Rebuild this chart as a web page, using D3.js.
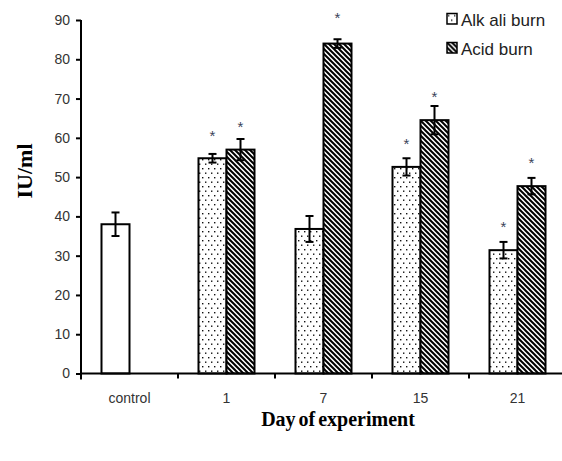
<!DOCTYPE html>
<html><head><meta charset="utf-8">
<script src="https://cdn.jsdelivr.net/npm/d3@7"></script>
<style>
html,body{margin:0;padding:0;background:#fff;}
svg{display:block;}
</style>
</head><body>
<svg id="chart" width="562" height="461"></svg>
<script>
// ---- data ----
const categories = ["control", "1", "7", "15", "21"];
const controlValues = [38, null, null, null, null];
const controlErr    = [3, null, null, null, null];
const alkaliValues  = [null, 54.8, 36.8, 52.6, 31.4];
const alkaliErr     = [null, 1.1, 3.3, 2.2, 2.1];
const acidValues    = [null, 57.0, 84.0, 64.5, 47.7];
const acidErr       = [null, 2.7, 1.1, 3.6, 2.1];
const alkaliStars   = [null, 61.3, null, 59.2, 38.0];
const acidStars     = [null, 63.5, 91.2, 71.1, 54.3];
const yTicks = [0, 10, 20, 30, 40, 50, 60, 70, 80, 90];
const seriesNames = ["Alk ali burn", "Acid burn"];

const svg = d3.select("#chart");
const defs = svg.append("defs");

// dotted pattern
const dots = defs.append("pattern").attr("id", "dots").attr("patternUnits", "userSpaceOnUse")
  .attr("width", 6).attr("height", 9);
dots.append("rect").attr("width", 6).attr("height", 9).attr("fill", "#fff");
dots.append("rect").attr("x", 1).attr("y", 1.5).attr("width", 1.4).attr("height", 1.4).attr("fill", "#111");
dots.append("rect").attr("x", 4).attr("y", 6).attr("width", 1.4).attr("height", 1.4).attr("fill", "#111");

// diagonal stripes (down-right)
const hatch = defs.append("pattern").attr("id", "hatch").attr("patternUnits", "userSpaceOnUse")
  .attr("width", 5).attr("height", 5);
hatch.append("rect").attr("width", 5).attr("height", 5).attr("fill", "#fff");
hatch.append("path").attr("d", "M-1,-1 L6,6 M-1,4 L1,6 M4,-1 L6,1")
  .attr("stroke", "#000").attr("stroke-width", 2);

// ---- scales ----
const x0 = 81, plotTop = 20, plotBottom = 373.5;
const x = d3.scaleBand().domain(categories).range([x0, x0 + 97 * categories.length]).padding(0);
const slot = d3.scaleBand().domain(["a", "b"]).range([0, x.bandwidth()]).paddingInner(0).paddingOuter(0.732);
const y = d3.scaleLinear().domain([0, 90]).range([plotBottom, plotTop]);

const bars = [];
categories.forEach((c, i) => {
  if (controlValues[i] != null) bars.push({c, s: "a", v: controlValues[i], e: controlErr[i], fill: "#fff", star: null});
  if (alkaliValues[i] != null) bars.push({c, s: "a", v: alkaliValues[i], e: alkaliErr[i], fill: "url(#dots)", star: alkaliStars[i]});
  if (acidValues[i] != null) bars.push({c, s: "b", v: acidValues[i], e: acidErr[i], fill: "url(#hatch)", star: acidStars[i]});
});

const g = svg.append("g");
g.selectAll("rect.bar").data(bars).join("rect").attr("class", "bar")
  .attr("x", d => x(d.c) + slot(d.s))
  .attr("y", d => y(d.v))
  .attr("width", slot.bandwidth())
  .attr("height", d => y(0) - y(d.v))
  .attr("fill", d => d.fill)
  .attr("stroke", "#000").attr("stroke-width", 2);

// error bars
const cx = d => x(d.c) + slot(d.s) + slot.bandwidth() / 2;
const eg = g.selectAll("g.err").data(bars).join("g").attr("class", "err")
  .attr("stroke", "#000").attr("stroke-width", 2);
eg.append("line").attr("x1", cx).attr("x2", cx).attr("y1", d => y(d.v + d.e)).attr("y2", d => y(d.v - d.e));
eg.append("line").attr("x1", d => cx(d) - 4).attr("x2", d => cx(d) + 4).attr("y1", d => y(d.v + d.e)).attr("y2", d => y(d.v + d.e));
eg.append("line").attr("x1", d => cx(d) - 4).attr("x2", d => cx(d) + 4).attr("y1", d => y(d.v - d.e)).attr("y2", d => y(d.v - d.e));

// stars
g.selectAll("text.star").data(bars.filter(d => d.star != null)).join("text").attr("class", "star")
  .attr("x", cx).attr("y", d => y(d.star) + 8)
  .attr("text-anchor", "middle").attr("font-family", "Liberation Sans, Arial, sans-serif")
  .attr("font-size", 15).attr("fill", "#3a4258").text("*");

// y axis
const yAxis = d3.axisLeft(y).tickValues(yTicks).tickSize(5).tickPadding(6);
const ya = svg.append("g").attr("transform", `translate(${x0},0)`).call(yAxis);
ya.select(".domain").remove();
ya.selectAll(".tick line").attr("stroke", "#000").attr("stroke-width", 2);
ya.selectAll(".tick text").attr("font-family", "Liberation Sans, Arial, sans-serif")
  .attr("font-size", 14).attr("fill", "#333");
svg.append("line").attr("x1", x0).attr("x2", x0).attr("y1", plotTop).attr("y2", plotBottom + 6)
  .attr("stroke", "#000").attr("stroke-width", 2);

// x axis
svg.append("line").attr("x1", x0).attr("x2", 562).attr("y1", plotBottom).attr("y2", plotBottom)
  .attr("stroke", "#000").attr("stroke-width", 2);
svg.selectAll("line.xt").data(categories).join("line").attr("class", "xt")
  .attr("x1", d => x(d) + x.step()).attr("x2", d => x(d) + x.step())
  .attr("y1", plotBottom).attr("y2", plotBottom + 5).attr("stroke", "#000").attr("stroke-width", 2);
const xAxis = d3.axisBottom(x).tickSize(0).tickPadding(20);
const xa = svg.append("g").attr("transform", `translate(0,${plotBottom})`).call(xAxis);
xa.select(".domain").remove();
xa.selectAll(".tick text").attr("font-family", "Liberation Sans, Arial, sans-serif")
  .attr("font-size", 14).attr("fill", "#333");

// axis titles
svg.append("text").attr("transform", "translate(32,171) rotate(-90)")
  .attr("text-anchor", "middle").attr("font-family", "Liberation Serif, Times New Roman, serif")
  .attr("font-weight", "bold").attr("font-size", 22).attr("fill", "#000").text("IU/ml");
svg.append("text").attr("x", 338).attr("y", 426)
  .attr("text-anchor", "middle").attr("font-family", "Liberation Serif, Times New Roman, serif")
  .attr("font-weight", "bold").attr("font-size", 20).attr("word-spacing", -2).attr("fill", "#000").text("Day of experiment");

// legend
const legend = svg.append("g");
const lg = legend.selectAll("g").data(seriesNames).join("g")
  .attr("transform", (d, i) => `translate(447,${13.5 + i * 29})`);
lg.append("rect").attr("width", 10).attr("height", 10.5)
  .attr("fill", (d, i) => i === 0 ? "url(#dots)" : "url(#hatch)")
  .attr("stroke", "#000").attr("stroke-width", 1.5);
lg.append("text").attr("x", 14).attr("y", 12.5)
  .attr("font-family", "Liberation Sans, Arial, sans-serif").attr("font-size", 17)
  .attr("fill", "#222").text(d => d);
</script>
</body></html>
